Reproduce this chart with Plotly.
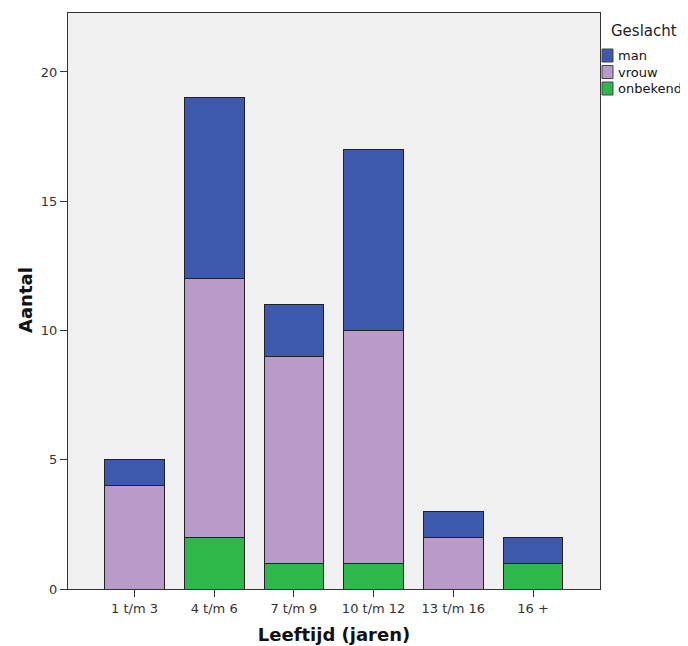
import plotly.graph_objects as go

categories = ["1 t/m 3", "4 t/m 6", "7 t/m 9", "10 t/m 12", "13 t/m 16", "16 +"]
onbekend = [0, 2, 1, 1, 0, 1]
vrouw = [4, 10, 8, 9, 2, 0]
man = [1, 7, 2, 7, 1, 1]
series = [("onbekend", onbekend, "#2EB84B"),
          ("vrouw", vrouw, "#B99AC8"),
          ("man", man, "#3D58AC")]
legend_title = "Geslacht"
x_title = "Leeftijd (jaren)"
y_title = "Aantal"

# the page body has an 8px default margin; size the figure so it fits the window
OFF = 8
W, H = 688 - OFF, 646 - OFF
# plot area in window pixels: x 68..600, y 13..589
L, T = 68 - OFF, 13 - OFF
R = W - (600 - OFF)
B = H - (589 - OFF)
pw, ph = W - L - R, H - T - B

fig = go.Figure()
for name, vals, color in series:
    fig.add_trace(go.Bar(x=categories, y=vals, name=name, width=0.75, showlegend=False,
                         marker=dict(color=color, line=dict(color="#222222", width=1))))

# coordinates given in window pixels
def px_x(x):
    return (x - OFF - L) / pw
def px_y(y):
    return (H - B - (y - OFF)) / ph

shapes = []
annotations = [dict(text=legend_title, xref="paper", yref="paper", x=px_x(609), y=px_y(31),
                    xanchor="left", yanchor="middle", showarrow=False,
                    font=dict(size=15, color="#222222")),
               dict(text="<b>" + y_title + "</b>", xref="paper", yref="paper", x=px_x(25), y=px_y(300),
                    xanchor="center", yanchor="middle", showarrow=False, textangle=-90,
                    font=dict(size=18, color="#111111"))]
for i, (name, vals, color) in enumerate(reversed(series)):
    yc = 55.5 + i * 16.5
    shapes.append(dict(type="rect", xref="paper", yref="paper",
                       x0=px_x(602), x1=px_x(613), y0=px_y(yc - 6.5), y1=px_y(yc + 6.5),
                       fillcolor=color, line=dict(color="#444444", width=1)))
    annotations.append(dict(text=name, xref="paper", yref="paper", x=px_x(616), y=px_y(yc),
                            xanchor="left", yanchor="middle", showarrow=False,
                            font=dict(size=13, color="#111111")))

fig.update_layout(
    barmode="stack",
    width=W, height=H,
    margin=dict(l=L, r=R, t=T, b=B, autoexpand=False),
    paper_bgcolor="white",
    plot_bgcolor="#F0F0F0",
    font=dict(family="DejaVu Sans", size=13, color="#333333"),
    showlegend=False,
    shapes=shapes,
    annotations=annotations,
)
fig.update_xaxes(type="category", range=[-0.834, 5.84], showline=True, linecolor="#333333",
                 linewidth=1, mirror=True, ticks="outside", ticklen=7, tickcolor="#333333",
                 showgrid=False, tickfont=dict(size=13),
                 title=dict(text="<b>" + x_title + "</b>", font=dict(size=18, color="#111111"), standoff=13))
fig.update_yaxes(range=[0, 22.28], tickvals=[0, 5, 10, 15, 20], showline=True, linecolor="#333333",
                 linewidth=1, mirror=True, ticks="outside", ticklen=7, tickcolor="#333333",
                 showgrid=False, zeroline=False, tickfont=dict(size=13))

fig.write_html("out.html")
